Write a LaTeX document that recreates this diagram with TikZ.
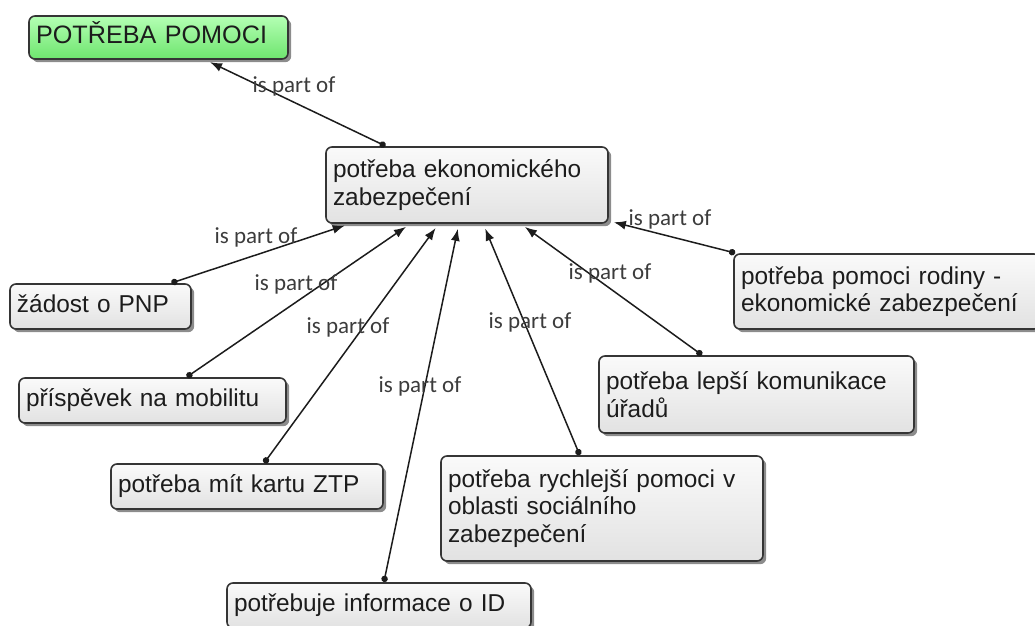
\documentclass[tikz,border=0pt]{standalone}
\usepackage{fontspec}
\setmainfont{Liberation Sans}
\newfontfamily\lblfont{Carlito}
\usetikzlibrary{arrows.meta,shadows}

\definecolor{boxtop}{HTML}{FAFAFA}
\definecolor{boxbot}{HTML}{E2E2E2}
\definecolor{greentop}{HTML}{B4FFB4}
\definecolor{greenbot}{HTML}{6EE56E}
\definecolor{edgeline}{HTML}{353535}
\definecolor{inktext}{HTML}{1C1C1C}
\definecolor{lbltext}{HTML}{3C3C3C}

\tikzset{
  concept/.style={
    draw=edgeline, line width=0.8pt, rounded corners=3pt,
    top color=boxtop, bottom color=boxbot,
    drop shadow={shadow xshift=1.6pt, shadow yshift=-1.6pt, fill=black, opacity=0.45},
    anchor=north west, inner xsep=3.5pt, inner ysep=2pt, outer sep=0.5pt,
    align=left, text=inktext,
    font=\fontsize{12.2pt}{13.8pt}\selectfont
  },
  oneline/.style={text height=9pt, text depth=3pt},
  rootbox/.style={concept, top color=greentop, bottom color=greenbot,
    font=\fontsize{12.6pt}{14pt}\selectfont, text height=9.5pt, text depth=3pt},
  link/.style={draw=inktext, line width=0.75pt,
    {Circle[length=3.2pt]}-{Latex[length=6pt,width=4.5pt]}, shorten >=2.5pt},
  relation/.style={text=lbltext, font=\lblfont\fontsize{11.5pt}{13pt}\selectfont, inner sep=0pt}
}

\begin{document}
\begin{tikzpicture}[x=0.5pt, y=-0.5pt]
  \useasboundingbox (0,0) rectangle (1035,626);
  \clip (0,0) rectangle (1035,626);

  % concepts
  \node[rootbox, minimum width=129.5pt, minimum height=21.5pt, text width=122.5pt] (root) at (28,15) {POTŘEBA POMOCI};
  \node[concept, minimum width=141pt, minimum height=38pt, text width=134pt] (ekon) at (325,146)
    {potřeba ekonomického\\zabezpečení};
  \node[concept, oneline, minimum width=90.5pt, minimum height=22.5pt, text width=83.5pt] (pnp) at (9,283) {žádost o PNP};
  \node[concept, oneline, minimum width=133.5pt, minimum height=22.5pt, text width=126.5pt] (mob) at (18,377) {příspěvek na mobilitu};
  \node[concept, oneline, minimum width=136pt, minimum height=22.5pt, text width=129pt] (ztp) at (110,463) {potřeba mít kartu ZTP};
  \node[concept, oneline, minimum width=152pt, minimum height=22.5pt, text width=145pt] (info) at (226,582) {potřebuje informace o ID};
  \node[concept, minimum width=161pt, minimum height=52.5pt, text width=154pt] (rych) at (440,455)
    {potřeba rychlejší pomoci v\\oblasti sociálního\\zabezpečení};
  \node[concept, minimum width=157.5pt, minimum height=38.5pt, text width=150.5pt] (kom) at (598,355)
    {potřeba lepší komunikace\\úřadů};
  \node[concept, minimum width=153pt, minimum height=37.5pt, text width=146pt] (rod) at (733,253)
    {potřeba pomoci rodiny -\\ekonomické zabezpečení};

  % links
  \draw[link] (ekon) -- (root);
  \draw[link] (pnp) -- (ekon);
  \draw[link] (mob) -- (ekon);
  \draw[link] (ztp) -- (ekon);
  \draw[link] (info) -- (ekon);
  \draw[link] (rych) -- (ekon);
  \draw[link] (kom) -- (ekon);
  \draw[link] (rod) -- (ekon);

  % link labels
  \node[relation] (r1) at (294,86) {is part of};
  \node[relation] (r2) at (256,237) {is part of};
  \node[relation] (r3) at (296,284) {is part of};
  \node[relation] (r4) at (348,327) {is part of};
  \node[relation] (r5) at (420,386) {is part of};
  \node[relation] (r6) at (530,322) {is part of};
  \node[relation] (r7) at (610,273) {is part of};
  \node[relation] (r8) at (670,219) {is part of};
\end{tikzpicture}
\end{document}
